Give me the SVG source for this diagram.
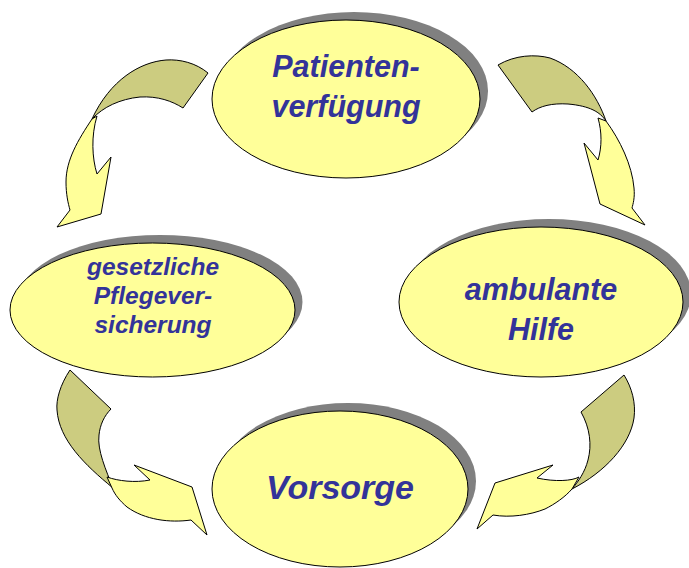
<svg xmlns="http://www.w3.org/2000/svg" width="689" height="568" viewBox="0 0 689 568">
<defs>
<style>
.arrow-dark{fill:#CCCC80;stroke:#000;stroke-width:1;stroke-linejoin:round}
.arrow-light{fill:#FFFF99;stroke:#000;stroke-width:1;stroke-linejoin:round}
.shadow{fill:#808080}
.node{fill:#FFFF99;stroke:#000;stroke-width:1}
.label{font-family:"Liberation Sans",Arial,sans-serif;font-weight:bold;font-style:italic;fill:#333399;text-anchor:middle}
</style>
</defs>
<rect width="689" height="568" fill="#fff"/>
<g id="connectors">
  <g id="arrow-top-left">
    <path class="arrow-dark" d="M208,73 C196,63 180,59 166,60 C140,62 110,80 92,119 C103,107 120,99 140,97 C158,96 172,101 183,108 Z"/>
    <path class="arrow-light" d="M92,119 C78,140 66,160 66,182 C66,194 68,203 70,210 L57,227 L101,214 L111,157 L97,174 C92,158 91,136 97,116 Z"/>
  </g>
  <g id="arrow-top-right">
    <path class="arrow-dark" d="M498,65 C515,55 535,54 550,58 C578,68 597,95 606,121 C600,112 590,106 568,104 C552,103 540,106 532,112 Z"/>
    <path class="arrow-light" d="M606,121 C620,140 632,165 634,188 C635,198 633,204 632,208 L645,225 L600,204 L584,143 L598,160 C602,147 602,132 598,118 Z"/>
  </g>
  <g id="arrow-bottom-left">
    <path class="arrow-dark" d="M70,370 C60,385 56,400 57,410 C59,440 85,465 113,488 C106,470 97,450 99,435 C100,425 104,416 111,409 Z"/>
    <path class="arrow-light" d="M107,477 C118,481 135,483 150,480 L134,465 L192,487 L207,535 L191,520 C170,523 145,520 127,507 C120,501 115,495 112,488 Z"/>
  </g>
  <g id="arrow-bottom-right">
    <path class="arrow-dark" d="M624,375 C632,388 636,403 634,418 C630,445 605,472 572,489 C578,482 585,472 588,460 C592,445 590,428 581,412 Z"/>
    <path class="arrow-light" d="M579,477 C572,481 555,482 537,478 L553,465 L495,483 L477,529 L493,515 C510,518 530,515 545,509 C555,504 565,497 572,489 Z"/>
  </g>
</g>
<g id="node-patientenverfuegung">
  <ellipse class="shadow" cx="354" cy="91" rx="134" ry="79"/>
  <ellipse class="node" cx="346" cy="99" rx="134" ry="79"/>
  <text class="label" font-size="30.5"><tspan x="346" y="77">Patienten-</tspan><tspan x="346" y="117">verfügung</tspan></text>
</g>
<g id="node-pflegeversicherung">
  <ellipse class="shadow" cx="160" cy="302" rx="142.5" ry="67"/>
  <ellipse class="node" cx="152.5" cy="310" rx="142.5" ry="67"/>
  <text class="label" font-size="24.5"><tspan x="153" y="275">gesetzliche</tspan><tspan x="153" y="304">Pflegever-</tspan><tspan x="153" y="333">sicherung</tspan></text>
</g>
<g id="node-ambulante-hilfe">
  <ellipse class="shadow" cx="549" cy="294" rx="142" ry="75"/>
  <ellipse class="node" cx="541" cy="302" rx="142" ry="75"/>
  <text class="label" font-size="30.5"><tspan x="541" y="300">ambulante</tspan><tspan x="541" y="340">Hilfe</tspan></text>
</g>
<g id="node-vorsorge">
  <ellipse class="shadow" cx="348" cy="481" rx="128" ry="78"/>
  <ellipse class="node" cx="340" cy="489" rx="128" ry="78"/>
  <text class="label" font-size="34" x="340" y="499">Vorsorge</text>
</g>
</svg>
